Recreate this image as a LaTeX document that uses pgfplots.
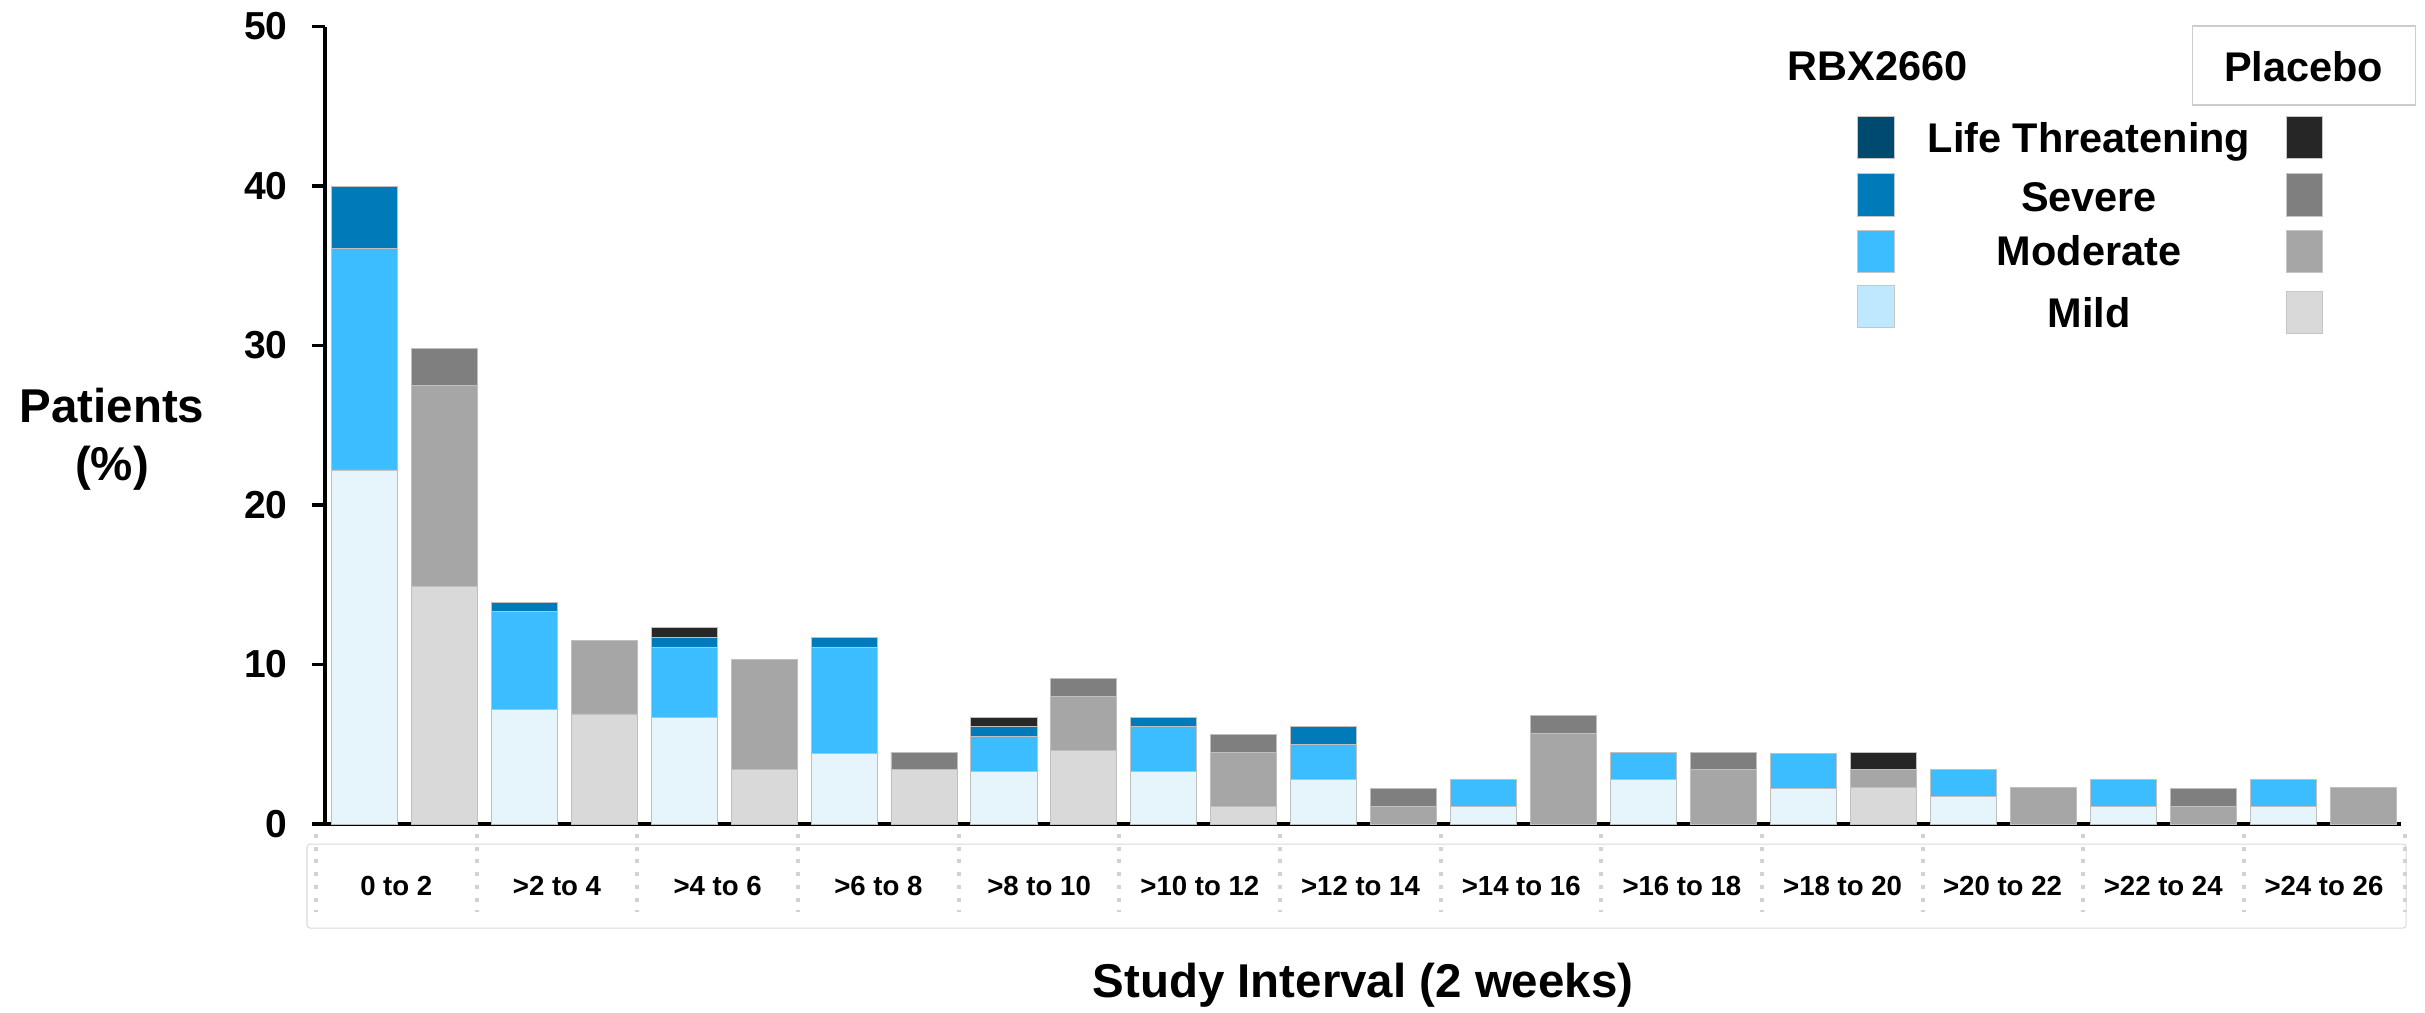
\documentclass[border=0pt]{standalone}
\usepackage{fontspec}
\setmainfont{Liberation Sans}
\usepackage{pgfplots}
\pgfplotsset{compat=1.18}

% RBX2660 shades
\definecolor{rLT}{HTML}{00496F}
\definecolor{rLTbar}{HTML}{282828}
\definecolor{rSev}{HTML}{007AB8}
\definecolor{rMod}{HTML}{3CBDFF}
\definecolor{rMild}{HTML}{E6F5FC}
\definecolor{rMildKey}{HTML}{BFE8FF}
% placebo shades
\definecolor{pLT}{HTML}{262626}
\definecolor{pSev}{HTML}{7F7F7F}
\definecolor{pMod}{HTML}{A6A6A6}
\definecolor{pMild}{HTML}{D9D9D9}

\newcommand\legfont{\fontsize{11.8}{14}\selectfont\bfseries}

% both axes share the same frame: 1px of the reference = 0.1mm
\pgfplotsset{common/.style={
    scale only axis, width=207.6mm, height=79.75mm,
    at={(32.5mm,-82.4mm)}, anchor=south west,
    xmin=-0.4916, xmax=25.474, ymin=0, ymax=50,
    enlargelimits=false,
    ybar stacked, bar width=0.826,
    every axis plot/.append style={draw=black!25, line width=0.25pt},
}}

\begin{document}
\begin{tikzpicture}
\path[use as bounding box] (0,0) rectangle (242.5mm,-101.2mm);

% RBX2660 bars (even positions) + all axis decoration
\begin{axis}[common,
    axis lines=left,
    axis line style={-, line width=1pt},
    tick align=outside,
    major tick length=1.3mm,
    ytick={0,10,...,50},
    ytick style={line width=1pt, black},
    xtick={0.40,2.41,4.42,6.43,8.44,10.45,12.46,14.47,16.48,18.49,20.49,22.50,24.51},
    xticklabels={0 to 2,>2 to 4,>4 to 6,>6 to 8,>8 to 10,>10 to 12,>12 to 14,>14 to 16,>16 to 18,>18 to 20,>20 to 22,>22 to 24,>24 to 26},
    xtick style={draw=none},
    /pgf/number format/assume math mode=true,
    yticklabel style={font=\fontsize{11.1}{13}\selectfont\bfseries, xshift=-1.2mm},
    xticklabel style={font=\fontsize{7.85}{9}\selectfont\bfseries, anchor=base, yshift=-5.87mm},
    ylabel={Patients\\(\%)},
    ylabel style={rotate=-90, align=center, anchor=center,
        font=\fontsize{13.5}{16.6}\selectfont\bfseries,
        at={(axis description cs:-0.1026,0.4828)}},
    xlabel={Study Interval (2 weeks)},
    xlabel style={anchor=center, font=\fontsize{13.5}{16}\selectfont\bfseries,
        at={(axis description cs:0.5,-0.2019)}},
  ]
  \addplot[fill=rMild] coordinates {(0,22.2) (2,7.2) (4,6.7) (6,4.4) (8,3.3) (10,3.3) (12,2.8) (14,1.1) (16,2.8) (18,2.2) (20,1.7) (22,1.1) (24,1.1)};
  \addplot[fill=rMod] coordinates {(0,13.9) (2,6.1) (4,4.4) (6,6.7) (8,2.2) (10,2.8) (12,2.2) (14,1.7) (16,1.7) (18,2.2) (20,1.7) (22,1.7) (24,1.7)};
  \addplot[fill=rSev] coordinates {(0,3.9) (2,0.6) (4,0.6) (6,0.6) (8,0.6) (10,0.6) (12,1.1) (14,0) (16,0) (18,0) (20,0) (22,0) (24,0)};
  \addplot[fill=rLTbar] coordinates {(0,0) (2,0) (4,0.6) (6,0) (8,0.6) (10,0) (12,0) (14,0) (16,0) (18,0) (20,0) (22,0) (24,0)};
\end{axis}

% placebo bars (odd positions)
\begin{axis}[common, hide axis]
  \addplot[fill=pMild] coordinates {(1,14.9) (3,6.9) (5,3.4) (7,3.4) (9,4.6) (11,1.1) (13,0) (15,0) (17,0) (19,2.3) (21,0) (23,0) (25,0)};
  \addplot[fill=pMod] coordinates {(1,12.6) (3,4.6) (5,6.9) (7,0) (9,3.4) (11,3.4) (13,1.1) (15,5.7) (17,3.4) (19,1.1) (21,2.3) (23,1.1) (25,2.3)};
  \addplot[fill=pSev] coordinates {(1,2.3) (3,0) (5,0) (7,1.1) (9,1.1) (11,1.1) (13,1.1) (15,1.1) (17,1.1) (19,0) (21,0) (23,1.1) (25,0)};
  \addplot[fill=pLT] coordinates {(1,0) (3,0) (5,0) (7,0) (9,0) (11,0) (13,0) (15,0) (17,0) (19,1.1) (21,0) (23,0) (25,0)};
\end{axis}

\begin{scope}[x=0.1mm, y=-0.1mm]
  % category table under the axis
  \draw[gray!30, line width=0.3pt, rounded corners=0.3mm] (307,844) rectangle (2406,928);
  \foreach \k in {0,...,13}
    \draw[gray!35, line width=0.4mm, dash pattern=on 0.4mm off 0.87mm]
      ({316+160.65*\k},834) -- ({316+160.65*\k},912);

  % legend
  \node[anchor=base west, inner sep=0, font=\legfont] at (1787,80) {RBX2660};
  \draw[gray!40, line width=0.3pt] (2192,26) rectangle (2415,105);
  \node[anchor=base, inner sep=0, font=\legfont] at (2303.5,81) {Placebo};

  \tikzset{key/.style={draw=gray!45, line width=0.2pt}}
  \filldraw[key, fill=rLT]      (1857,116) rectangle (1894,158);
  \filldraw[key, fill=rSev]     (1857,173) rectangle (1894,216);
  \filldraw[key, fill=rMod]     (1857,230) rectangle (1894,272);
  \filldraw[key, fill=rMildKey] (1857,285) rectangle (1894,327);
  \filldraw[key, fill=pLT]   (2286,116) rectangle (2322,158);
  \filldraw[key, fill=pSev]  (2286,173) rectangle (2322,216);
  \filldraw[key, fill=pMod]  (2286,230) rectangle (2322,272);
  \filldraw[key, fill=pMild] (2286,291) rectangle (2322,333);

  \node[anchor=base, inner sep=0, font=\legfont] at (2089,152.7) {Life Threatening};
  \node[anchor=base, inner sep=0, font=\legfont] at (2089,211) {Severe};
  \node[anchor=base, inner sep=0, font=\legfont] at (2089,265) {Moderate};
  \node[anchor=base, inner sep=0, font=\legfont] at (2089,327) {Mild};
\end{scope}
\end{tikzpicture}
\end{document}
